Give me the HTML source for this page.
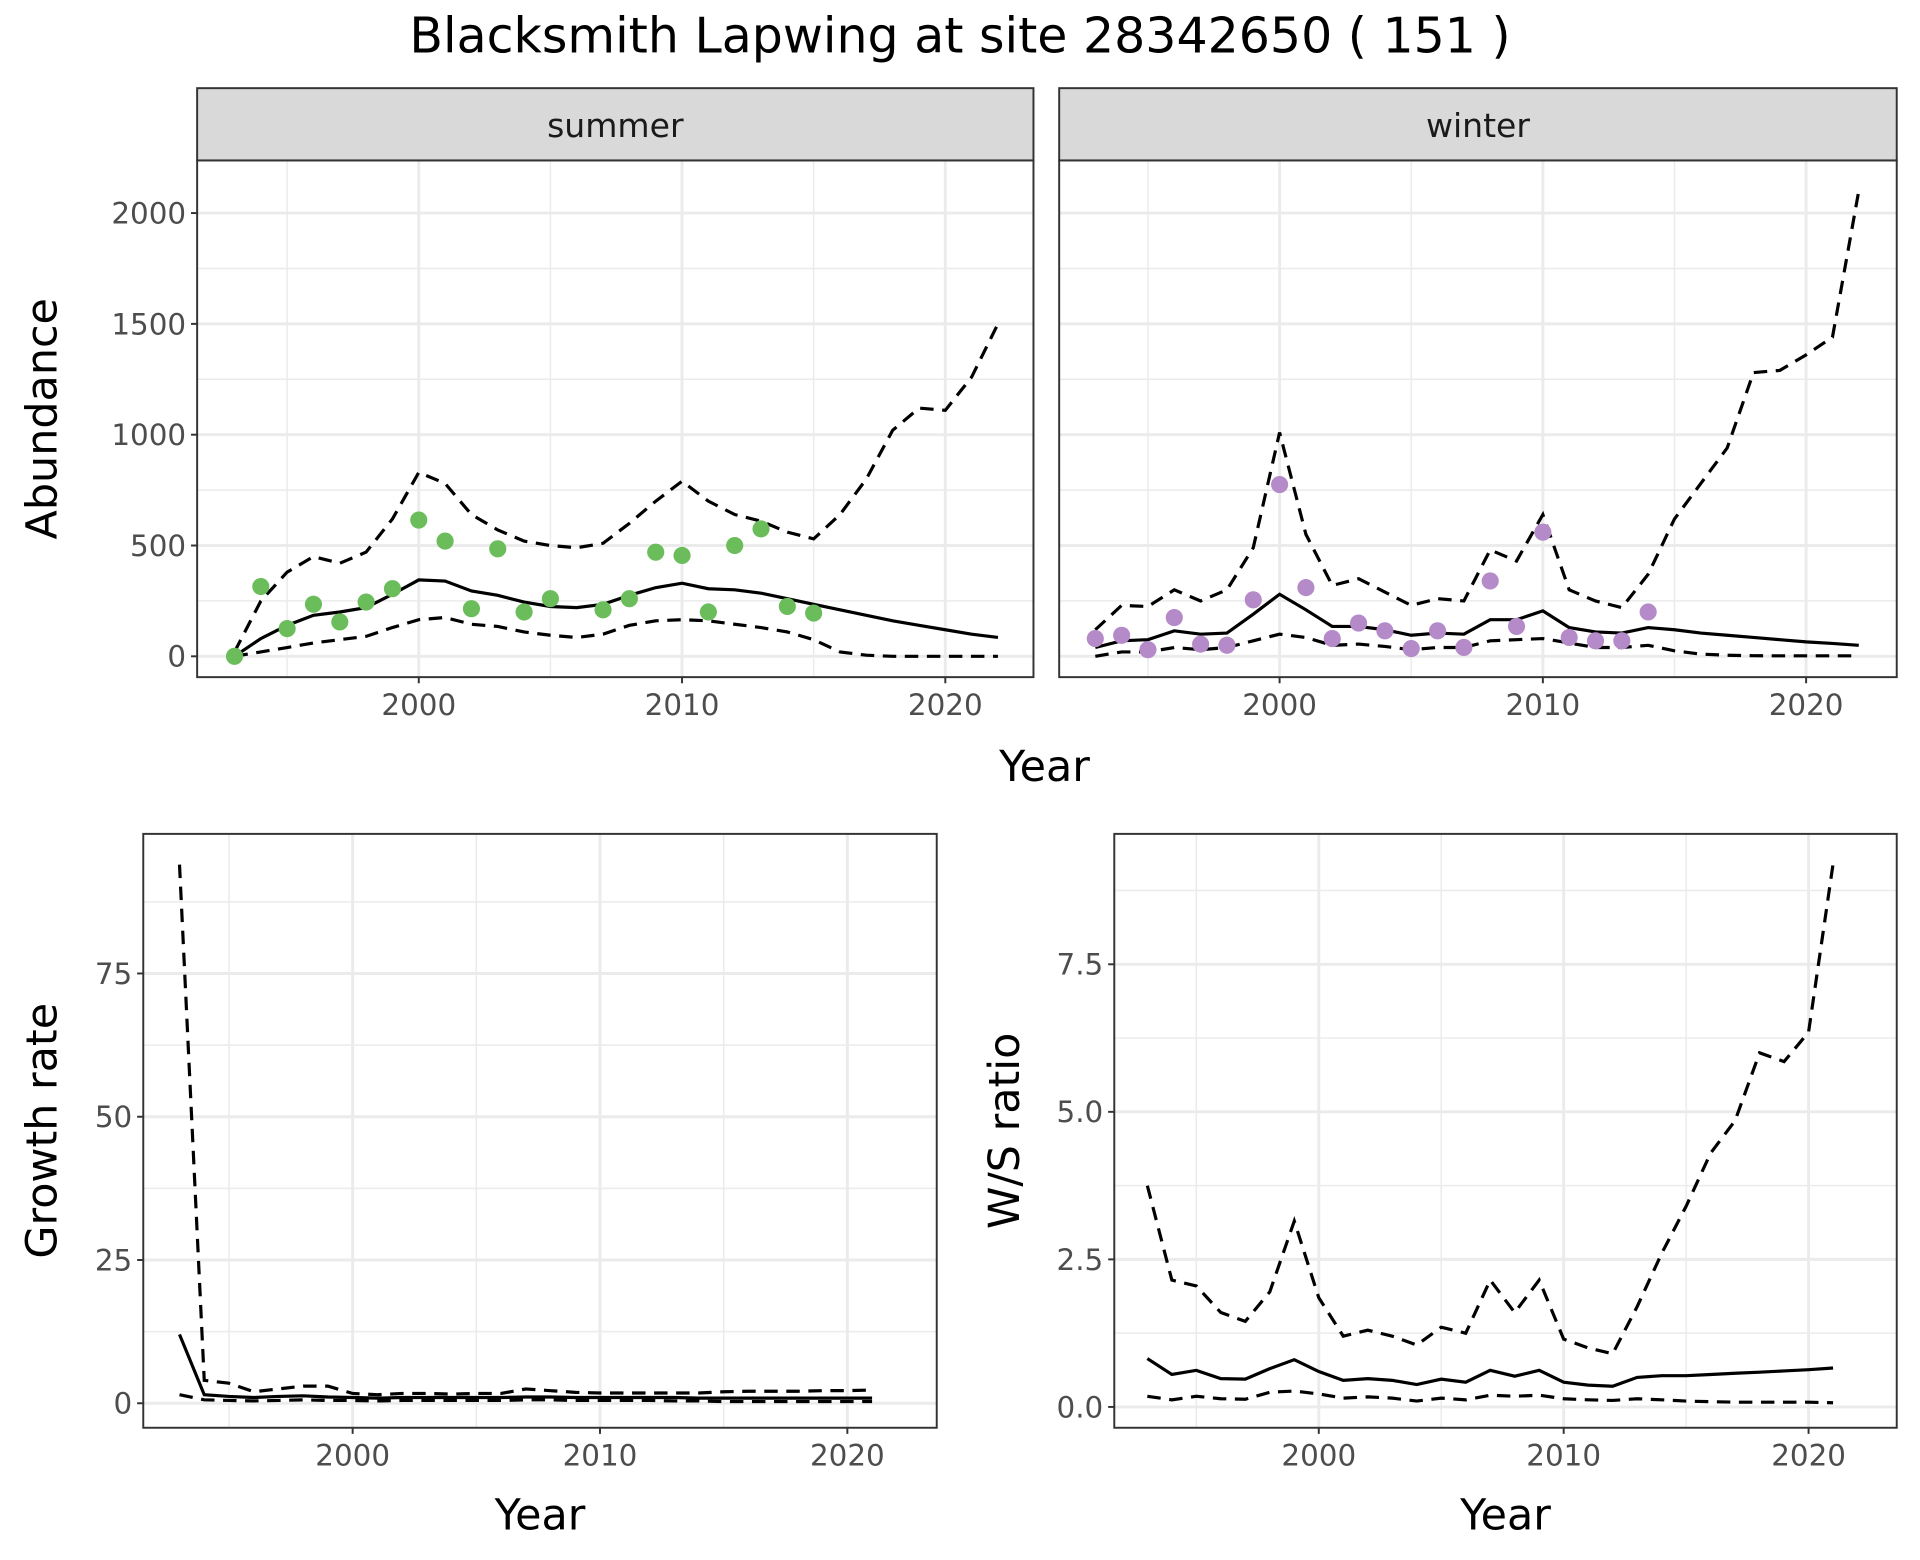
<!DOCTYPE html>
<html><head><meta charset="utf-8"><style>
html,body{margin:0;padding:0;background:#fff}
svg{display:block}
text{font-family:"DejaVu Sans","Liberation Sans",sans-serif}
</style></head><body>
<svg id="chart" width="1920" height="1560" viewBox="0 0 1568 1274" preserveAspectRatio="none" xmlns="http://www.w3.org/2000/svg">
<text x="784" y="43" font-size="40" text-anchor="middle" fill="#000">Blacksmith Lapwing at site 28342650 ( 151 )</text>
</svg>
<script>
const yearsAb = [1993,1994,1995,1996,1997,1998,1999,2000,2001,2002,2003,2004,2005,2006,2007,2008,2009,2010,2011,2012,2013,2014,2015,2016,2017,2018,2019,2020,2021,2022];
const sumPtYears = [1993,1994,1995,1996,1997,1998,1999,2000,2001,2002,2003,2004,2005,2007,2008,2009,2010,2011,2012,2013,2014,2015];
const sumPts = [0,315,125,235,155,245,305,615,520,215,485,200,260,210,260,470,455,200,500,575,225,195];
const sumMean = [0,80,140,185,200,220,280,345,340,295,275,245,225,220,235,275,310,330,305,300,285,260,235,210,185,160,140,120,100,85];
const sumUpper = [20,250,380,450,420,470,620,830,780,640,570,520,500,490,510,600,700,790,700,640,610,560,530,640,800,1020,1120,1110,1260,1500];
const sumLower = [0,20,40,60,75,90,130,165,175,145,135,110,95,85,100,140,160,165,160,145,130,110,75,20,5,0,0,0,0,0];
const winPtYears = [1993,1994,1995,1996,1997,1998,1999,2000,2001,2002,2003,2004,2005,2006,2007,2008,2009,2010,2011,2012,2013,2014];
const winPts = [80,95,30,175,55,50,255,775,310,80,150,115,35,115,40,340,135,560,85,70,70,200];
const winMean = [40,70,75,115,100,105,190,280,210,135,135,120,95,105,100,165,165,205,130,110,105,130,120,105,95,85,75,65,58,50];
const winUpper = [120,230,225,300,250,300,490,1010,550,320,350,290,230,260,250,480,430,640,300,250,220,370,620,780,940,1280,1290,1360,1440,2100];
const winLower = [0,20,20,40,30,40,70,100,85,50,55,45,30,40,40,70,75,80,60,40,40,50,25,10,5,3,2,2,2,2];
const yearsGr = [1993,1994,1995,1996,1997,1998,1999,2000,2001,2002,2003,2004,2005,2006,2007,2008,2009,2010,2011,2012,2013,2014,2015,2016,2017,2018,2019,2020,2021];
const grMean = [12,1.5,1.2,1,1.2,1.3,1.1,1,0.9,1,1,1,1,1,1.1,1.1,1,1,1,1,1,0.9,0.9,0.9,0.9,0.9,0.9,0.9,0.9];
const grUpper = [94,4,3.5,2,2.5,3,3,1.7,1.5,1.7,1.7,1.6,1.7,1.7,2.5,2.2,1.9,1.8,1.8,1.8,1.8,1.8,2,2.1,2.1,2.1,2.2,2.2,2.3];
const grLower = [1.5,0.6,0.5,0.4,0.5,0.6,0.5,0.5,0.4,0.5,0.5,0.5,0.5,0.5,0.6,0.6,0.5,0.5,0.5,0.5,0.4,0.4,0.3,0.3,0.3,0.3,0.3,0.3,0.3];
const wsMean = [0.82,0.55,0.62,0.48,0.47,0.65,0.8,0.6,0.45,0.48,0.45,0.38,0.47,0.42,0.62,0.52,0.62,0.42,0.37,0.35,0.5,0.53,0.53,0.55,0.57,0.59,0.61,0.63,0.66];
const wsUpper = [3.75,2.15,2.05,1.6,1.45,1.95,3.15,1.85,1.2,1.3,1.2,1.05,1.35,1.25,2.15,1.6,2.15,1.15,1.0,0.9,1.7,2.6,3.4,4.3,4.85,6.0,5.85,6.35,9.2];
const wsLower = [0.18,0.12,0.18,0.14,0.13,0.25,0.27,0.22,0.15,0.17,0.15,0.1,0.15,0.12,0.2,0.18,0.2,0.14,0.12,0.11,0.14,0.12,0.1,0.09,0.08,0.08,0.08,0.08,0.07];
const abTicks = [0,500,1000,1500,2000];
const grTicks = [0,25,50,75];
const wsTicks = [0,2.5,5.0,7.5];
const wsTickLabels = ["0.0","2.5","5.0","7.5"];
const xTicks = [2000,2010,2020];

const NS="http://www.w3.org/2000/svg";
const svg=document.getElementById('chart');
function mk(tag,attrs,parent){const e=document.createElementNS(NS,tag);for(const k in attrs)e.setAttribute(k,attrs[k]);(parent||svg).appendChild(e);return e;}
function lin(d0,d1,r0,r1){return v=>r0+(v-d0)*(r1-r0)/(d1-d0);}

function panel(o){
  const g=mk('g',{});
  
  
  const X=lin(2000,2010,o.x2000,o.x2010), Y=lin(0,o.t1,o.y0,o.yt1);
  mk('rect',{x:o.l,y:o.t,width:o.r-o.l,height:o.b-o.t,fill:'#fff'},g);
  for(let yr=1985;yr<=2030;yr+=5){const px=X(yr);if(px>o.l&&px<o.r){mk('line',{x1:px,x2:px,y1:o.t,y2:o.b,stroke:'#ebebeb','stroke-width':yr%10?1.2:2.4},g);}}
  const st=o.t1/2;
  for(let v=-st;v<=o.t1*6;v+=st){const py=Y(v);if(py>o.t&&py<o.b){mk('line',{x1:o.l,x2:o.r,y1:py,y2:py,stroke:'#ebebeb','stroke-width':(Math.round(v/st)%2)?1.2:2.4},g);}}
  mk('rect',{x:o.l,y:o.t,width:o.r-o.l,height:o.b-o.t,fill:'none',stroke:'#333','stroke-width':1.6},g);
  const pathOf=(xs,ys)=>xs.map((x,i)=>(i?'L':'M')+X(x).toFixed(1)+','+Y(ys[i]).toFixed(1)).join(' ');
  const lw=2.6;
  const up=mk('path',{d:pathOf(o.years,o.upper),fill:'none',stroke:'#000','stroke-width':lw,'stroke-dasharray':'11,7'},g);
  
  
  const lo=mk('path',{d:pathOf(o.years,o.lower),fill:'none',stroke:'#000','stroke-width':lw,'stroke-dasharray':'11,7'},g);
  
  
  const mn=mk('path',{d:pathOf(o.years,o.mean),fill:'none',stroke:'#000','stroke-width':lw},g);
  
  
  if(o.pts){o.ptYears.forEach((yr,i)=>{const c=mk('circle',{cx:X(yr),cy:Y(o.pts[i]),r:7,fill:o.color},g);
    
    });}
  xTicks.forEach(t=>{const px=X(t);mk('line',{x1:px,x2:px,y1:o.b,y2:o.b+5,stroke:'#333','stroke-width':1.6},g);
    const tx=mk('text',{x:px,y:o.b+31,'font-size':24,fill:'#4d4d4d','text-anchor':'middle'},g);tx.textContent=t;
    
    });
  if(o.yTicks){o.yTicks.forEach((t,i)=>{const py=Y(t);mk('line',{x1:o.l-5,x2:o.l,y1:py,y2:py,stroke:'#333','stroke-width':1.6},g);
    const tx=mk('text',{x:o.l-9,y:py+8.5,'font-size':24,fill:'#4d4d4d','text-anchor':'end'},g);tx.textContent=o.yLabels?o.yLabels[i]:t;
    
    });}
  if(o.strip){const sr=mk('rect',{x:o.l,y:72,width:o.r-o.l,height:o.t-72,fill:'#d9d9d9',stroke:'#333','stroke-width':1.6},g);
    
    
    const st2=mk('text',{x:(o.l+o.r)/2,y:112,'font-size':27,fill:'#1a1a1a','text-anchor':'middle'},g);st2.textContent=o.strip;
    
    }
  if(o.ytitle){const yt=mk('text',{x:0,y:0,'font-size':35,fill:'#000','text-anchor':'middle',transform:`translate(${o.ytx},${(o.t+o.b)/2}) rotate(-90)`},g);yt.textContent=o.ytitle;
    
    }
  if(o.xtitle){const xt=mk('text',{x:(o.l+o.r)/2,y:1249,'font-size':35,fill:'#000','text-anchor':'middle'},g);xt.textContent='Year';
    
    }
}
panel({name:'summer-panel',l:161,r:844,t:131,b:553,x2000:342,x2010:557,t1:500,y0:536,yt1:445.5,years:yearsAb,mean:sumMean,upper:sumUpper,lower:sumLower,ptYears:sumPtYears,pts:sumPts,color:'#6abd5a',yTicks:abTicks,strip:'summer',ytitle:'Abundance',ytx:46});
panel({name:'winter-panel',l:865,r:1549,t:131,b:553,x2000:1045,x2010:1260,t1:500,y0:536,yt1:445.5,years:yearsAb,mean:winMean,upper:winUpper,lower:winLower,ptYears:winPtYears,pts:winPts,color:'#b58ac8',strip:'winter'});
const yx=mk('text',{x:853,y:638,'font-size':35,fill:'#000','text-anchor':'middle'});yx.textContent='Year';


panel({name:'growth-panel',l:117,r:765,t:681,b:1166,x2000:288,x2010:490,t1:25,y0:1146,yt1:1029,years:yearsGr,mean:grMean,upper:grUpper,lower:grLower,yTicks:grTicks,ytitle:'Growth rate',ytx:46,xtitle:true});
panel({name:'ws-ratio-panel',l:910,r:1549,t:681,b:1166,x2000:1077,x2010:1277,t1:2.5,y0:1149,yt1:1028.5,years:yearsGr,mean:wsMean,upper:wsUpper,lower:wsLower,yTicks:wsTicks,yLabels:wsTickLabels,ytitle:'W/S ratio',ytx:832,xtitle:true});
</script>
</body></html>
